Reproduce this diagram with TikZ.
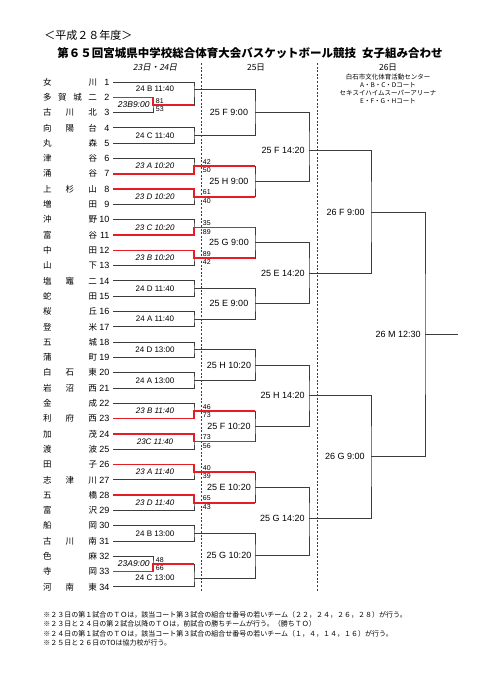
\documentclass[tikz,border=0pt]{standalone}
\usepackage{fontspec}
\usetikzlibrary{positioning}
\setmainfont{Liberation Sans}
\newfontfamily\cjk{Noto Sans CJK JP}
\newfontfamily\cjksl[FakeSlant=0.2]{Noto Sans CJK JP}
\definecolor{winred}{RGB}{228,30,36}
\definecolor{lineg}{RGB}{60,60,60}
\newcommand{\tnum}[1]{\makebox[12.5pt][r]{\normalfont\fontsize{9}{9}\selectfont #1}}

\tikzset{
  team/.style={text width=66.5pt, align=left, inner xsep=3.5pt, inner ysep=0pt, font=\cjk\fontsize{8.5}{8.5}\selectfont},
  game/.style={inner sep=1pt, font=\fontsize{8}{8}\selectfont},
  played/.style={inner sep=1pt, font=\itshape\fontsize{8}{8}\selectfont},
  court/.style={inner sep=1pt, font=\fontsize{9}{9}\selectfont},
  score/.style={inner sep=0pt, font=\fontsize{7}{7}\selectfont},
  win/.style={draw=winred, line width=1.5pt},
  day/.style={line width=1pt, dash pattern=on 2pt off 1.6pt},
}

\begin{document}
\begin{tikzpicture}[x=1pt, y=-1pt, node distance=15.3pt, color=lineg, text=black, line width=.9pt]
        \useasboundingbox (0,0) rectangle (481,680);

        % Heading
        \node (era) [anchor=west, inner sep=0pt, font=\cjk\fontsize{11}{11}\selectfont] at (44,35) {＜平成２８年度＞};
        \node (title) [inner sep=0pt, font=\cjk\bfseries\fontsize{11.5}{11.5}\selectfont] at (250,53) {第６５回宮城県中学校総合体育大会バスケットボール競技\hspace{6pt}女子組み合わせ};
        \node (day1) [font=\cjksl\fontsize{8.5}{8.5}\selectfont] at (155,68) {23日・24日};
        \node (day2) [font=\cjk\fontsize{8.5}{8.5}\selectfont] at (256,68) {25日};
        \node (day3) [font=\cjk\fontsize{8.5}{8.5}\selectfont] at (388,68) {26日};
        \node (venue) [anchor=north, align=center, inner sep=0pt, font=\cjk\fontsize{6.5}{8}\selectfont] at (388,74) {白石市文化体育活動センター\\A・B・C・Dコート\\セキスイハイムスーパーアリーナ\\E・F・G・Hコート};

        % Day separators
        \draw[day] (201,63) -- (201,592);
        \draw[day] (317,63) -- (317,592);

        % Teams
        \node (t1) [team] at (76.25,82) {女\hfill 川\tnum{1}};
        \node (t2) [team, below of=t1] {多\hfill 賀\hfill 城\hfill 二\tnum{2}};
        \node (t3) [team, below of=t2] {古\hfill 川\hfill 北\tnum{3}};
        \node (t4) [team, below of=t3] {向\hfill 陽\hfill 台\tnum{4}};
        \node (t5) [team, below of=t4] {丸\hfill 森\tnum{5}};
        \node (t6) [team, below of=t5] {津\hfill 谷\tnum{6}};
        \node (t7) [team, below of=t6] {涌\hfill 谷\tnum{7}};
        \node (t8) [team, below of=t7] {上\hfill 杉\hfill 山\tnum{8}};
        \node (t9) [team, below of=t8] {増\hfill 田\tnum{9}};
        \node (t10) [team, below of=t9] {沖\hfill 野\tnum{10}};
        \node (t11) [team, below of=t10] {富\hfill 谷\tnum{11}};
        \node (t12) [team, below of=t11] {中\hfill 田\tnum{12}};
        \node (t13) [team, below of=t12] {山\hfill 下\tnum{13}};
        \node (t14) [team, below of=t13] {塩\hfill 竈\hfill 二\tnum{14}};
        \node (t15) [team, below of=t14] {蛇\hfill 田\tnum{15}};
        \node (t16) [team, below of=t15] {桜\hfill 丘\tnum{16}};
        \node (t17) [team, below of=t16] {登\hfill 米\tnum{17}};
        \node (t18) [team, below of=t17] {五\hfill 城\tnum{18}};
        \node (t19) [team, below of=t18] {蒲\hfill 町\tnum{19}};
        \node (t20) [team, below of=t19] {白\hfill 石\hfill 東\tnum{20}};
        \node (t21) [team, below of=t20] {岩\hfill 沼\hfill 西\tnum{21}};
        \node (t22) [team, below of=t21] {金\hfill 成\tnum{22}};
        \node (t23) [team, below of=t22] {利\hfill 府\hfill 西\tnum{23}};
        \node (t24) [team, below of=t23] {加\hfill 茂\tnum{24}};
        \node (t25) [team, below of=t24] {渡\hfill 波\tnum{25}};
        \node (t26) [team, below of=t25] {田\hfill 子\tnum{26}};
        \node (t27) [team, below of=t26] {志\hfill 津\hfill 川\tnum{27}};
        \node (t28) [team, below of=t27] {五\hfill 橋\tnum{28}};
        \node (t29) [team, below of=t28] {富\hfill 沢\tnum{29}};
        \node (t30) [team, below of=t29] {船\hfill 岡\tnum{30}};
        \node (t31) [team, below of=t30] {古\hfill 川\hfill 南\tnum{31}};
        \node (t32) [team, below of=t31] {色\hfill 麻\tnum{32}};
        \node (t33) [team, below of=t32] {寺\hfill 岡\tnum{33}};
        \node (t34) [team, below of=t33] {河\hfill 南\hfill 東\tnum{34}};

        % Match points
        \coordinate (p1) at (153,104.95);
        \coordinate (p2) at (153,563.95);
        \coordinate (m1) at (194,89);
        \coordinate (m2) at (194,135.55);
        \coordinate (m3) at (194,166.15);
        \coordinate (m4) at (194,196.75);
        \coordinate (m5) at (194,227.35);
        \coordinate (m6) at (194,257.95);
        \coordinate (m7) at (194,288.55);
        \coordinate (m8) at (194,319.15);
        \coordinate (m9) at (194,349.75);
        \coordinate (m10) at (194,380.35);
        \coordinate (m11) at (194,410.95);
        \coordinate (m12) at (194,441.55);
        \coordinate (m13) at (194,472.15);
        \coordinate (m14) at (194,502.75);
        \coordinate (m15) at (194,533.35);
        \coordinate (m16) at (194,578);
        \coordinate (r1) at (255,112.3);
        \coordinate (r2) at (255,181.45);
        \coordinate (r3) at (255,242.65);
        \coordinate (r4) at (255,303.85);
        \coordinate (r5) at (255,365.05);
        \coordinate (r6) at (255,426.25);
        \coordinate (r7) at (255,487.45);
        \coordinate (r8) at (255,555.2);
        \coordinate (u1) at (309,150);
        \coordinate (u2) at (309,273.25);
        \coordinate (u3) at (309,395.65);
        \coordinate (u4) at (309,518);
        \coordinate (v1) at (371,212);
        \coordinate (v2) at (371,456);
        \coordinate (f) at (425,334);
        \coordinate (champ) at (458,334);

        % Edges, 23/24
        \draw (t1.east) -| (m1) |- (p1);
        \draw (t2.east) -| (p1) |- (t3.east);
        \draw (t4.east) -| (m2) |- (t5.east);
        \draw (t6.east) -| (m3) |- (t7.east);
        \draw (t8.east) -| (m4) |- (t9.east);
        \draw (t10.east) -| (m5) |- (t11.east);
        \draw (t12.east) -| (m6) |- (t13.east);
        \draw (t14.east) -| (m7) |- (t15.east);
        \draw (t16.east) -| (m8) |- (t17.east);
        \draw (t18.east) -| (m9) |- (t19.east);
        \draw (t20.east) -| (m10) |- (t21.east);
        \draw (t22.east) -| (m11) |- (t23.east);
        \draw (t24.east) -| (m12) |- (t25.east);
        \draw (t26.east) -| (m13) |- (t27.east);
        \draw (t28.east) -| (m14) |- (t29.east);
        \draw (t30.east) -| (m15) |- (t31.east);
        \draw (t32.east) -| (p2) |- (t33.east);
        \draw (p2) -| (m16) |- (t34.east);

        % Edges, 25
        \draw (m1) -| (r1) |- (m2);
        \draw (m3) -| (r2) |- (m4);
        \draw (m5) -| (r3) |- (m6);
        \draw (m7) -| (r4) |- (m8);
        \draw (m9) -| (r5) |- (m10);
        \draw (m11) -| (r6) |- (m12);
        \draw (m13) -| (r7) |- (m14);
        \draw (m15) -| (r8) |- (m16);
        \draw (r1) -| (u1) |- (r2);
        \draw (r3) -| (u2) |- (r4);
        \draw (r5) -| (u3) |- (r6);
        \draw (r7) -| (u4) |- (r8);

        % Edges, 26
        \draw (u1) -| (v1) |- (u2);
        \draw (u3) -| (v2) |- (u4);
        \draw (v1) -| (f) |- (v2);
        \draw (f) -- (champ);

        % Winners
        \draw[win] (t2.east) -| (p1) -- (p1 -| m1);
        \draw[win] (t7.east) -| (m3) -- (m3 -| r2);
        \draw[win] (t8.east) -| (m4) -- (m4 -| r2);
        \draw[win] (t11.east) -| (m5) -- (m5 -| r3);
        \draw[win] (t12.east) -| (m6) -- (m6 -| r3);
        \draw[win] (t23.east) -| (m11) -- (m11 -| r6);
        \draw[win] (t24.east) -| (m12) -- (m12 -| r6);
        \draw[win] (t26.east) -| (m13) -- (m13 -| r7);
        \draw[win] (t28.east) -| (m14) -- (m14 -| r7);
        \draw[win] (t33.east) -| (p2) -- (p2 -| m16);

        % Scores
        \node (x1a) [score, right=2.5pt of p1, yshift=4.3pt] {81};
        \node (x1b) [score, right=2.5pt of p1, yshift=-4.3pt] {53};
        \node (x3a) [score, right=8.5pt of m3, yshift=4.3pt] {42};
        \node (x3b) [score, right=8.5pt of m3, yshift=-4.3pt] {50};
        \node (x4a) [score, right=8.5pt of m4, yshift=4.3pt] {61};
        \node (x4b) [score, right=8.5pt of m4, yshift=-4.3pt] {40};
        \node (x5a) [score, right=8.5pt of m5, yshift=4.3pt] {35};
        \node (x5b) [score, right=8.5pt of m5, yshift=-4.3pt] {89};
        \node (x6a) [score, right=8.5pt of m6, yshift=4.3pt] {89};
        \node (x6b) [score, right=8.5pt of m6, yshift=-4.3pt] {42};
        \node (x11a) [score, right=8.5pt of m11, yshift=4.3pt] {46};
        \node (x11b) [score, right=8.5pt of m11, yshift=-4.3pt] {73};
        \node (x12a) [score, right=8.5pt of m12, yshift=4.3pt] {73};
        \node (x12b) [score, right=8.5pt of m12, yshift=-4.3pt] {56};
        \node (x13a) [score, right=8.5pt of m13, yshift=4.3pt] {40};
        \node (x13b) [score, right=8.5pt of m13, yshift=-4.3pt] {39};
        \node (x14a) [score, right=8.5pt of m14, yshift=4.3pt] {65};
        \node (x14b) [score, right=8.5pt of m14, yshift=-4.3pt] {43};
        \node (x2a) [score, right=2.5pt of p2, yshift=4.3pt] {48};
        \node (x2b) [score, right=2.5pt of p2, yshift=-4.3pt] {66};

        % Game labels
        \node (pre1) [played, font=\itshape\fontsize{8.5}{8.5}\selectfont, left=2pt of p1] {23B9:00};
        \node (pre2) [played, font=\itshape\fontsize{8.5}{8.5}\selectfont, left=2pt of p2] {23A9:00};
        \node (g1) [game, xshift=-39pt] at (m1) {24 B 11:40};
        \node (g2) [game, xshift=-39pt] at (m2) {24 C 11:40};
        \node (g3) [played, xshift=-39pt] at (m3) {23 A 10:20};
        \node (g4) [played, xshift=-39pt] at (m4) {23 D 10:20};
        \node (g5) [played, xshift=-39pt] at (m5) {23 C 10:20};
        \node (g6) [played, xshift=-39pt] at (m6) {23 B 10:20};
        \node (g7) [game, xshift=-39pt] at (m7) {24 D 11:40};
        \node (g8) [game, xshift=-39pt] at (m8) {24 A 11:40};
        \node (g9) [game, xshift=-39pt] at (m9) {24 D 13:00};
        \node (g10) [game, xshift=-39pt] at (m10) {24 A 13:00};
        \node (g11) [played, xshift=-39pt] at (m11) {23 B 11:40};
        \node (g12) [played, xshift=-39pt] at (m12) {23C 11:40};
        \node (g13) [played, xshift=-39pt] at (m13) {23 A 11:40};
        \node (g14) [played, xshift=-39pt] at (m14) {23 D 11:40};
        \node (g15) [game, xshift=-39pt] at (m15) {24 B 13:00};
        \node (g16) [game, xshift=-39pt] at (m16) {24 C 13:00};
        \node (h1) [court, xshift=-26pt] at (r1) {25 F 9:00};
        \node (h2) [court, xshift=-26pt] at (r2) {25 H 9:00};
        \node (h3) [court, xshift=-26pt] at (r3) {25 G 9:00};
        \node (h4) [court, xshift=-26pt] at (r4) {25 E 9:00};
        \node (h5) [court, xshift=-26pt] at (r5) {25 H 10:20};
        \node (h6) [court, xshift=-26pt] at (r6) {25 F 10:20};
        \node (h7) [court, xshift=-26pt] at (r7) {25 E 10:20};
        \node (h8) [court, xshift=-26pt] at (r8) {25 G 10:20};
        \node (k1) [court, anchor=east, xshift=-3pt] at (u1) {25 F 14:20};
        \node (k2) [court, anchor=east, xshift=-3pt] at (u2) {25 E 14:20};
        \node (k3) [court, anchor=east, xshift=-3pt] at (u3) {25 H 14:20};
        \node (k4) [court, anchor=east, xshift=-3pt] at (u4) {25 G 14:20};
        \node (n1) [court, anchor=east, xshift=-5pt] at (v1) {26 F 9:00};
        \node (n2) [court, anchor=east, xshift=-5pt] at (v2) {26 G 9:00};
        \node (fin) [court, anchor=east, xshift=-3pt] at (f) {26 M 12:30};

        % Notes
        \node (notes) [anchor=north west, align=left, inner sep=0pt, font=\cjk\fontsize{7}{9.3}\selectfont] at (43,611) {※２３日の第１試合のＴＯは，該当コート第３試合の組合せ番号の若いチーム（２２，２４，２６，２８）が行う。\\※２３日と２４日の第２試合以降のＴＯは，前試合の勝ちチームが行う。（勝ちＴＯ）\\※２４日の第１試合のＴＯは，該当コート第３試合の組合せ番号の若いチーム（１，４，１４，１６）が行う。\\※２５日と２６日のTOは協力校が行う。};
\end{tikzpicture}
\end{document}
